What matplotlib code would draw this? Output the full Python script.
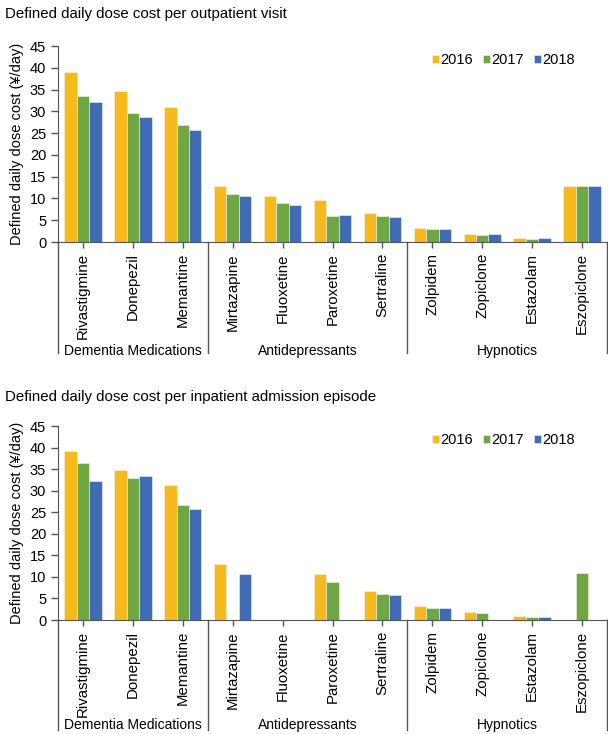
import numpy as np
import matplotlib
matplotlib.use("Agg")
import matplotlib.pyplot as plt
import matplotlib.transforms as mtransforms

plt.rcParams['font.family'] = ['Liberation Sans', 'DejaVu Sans']

drugs = ['Rivastigmine', 'Donepezil', 'Memantine', 'Mirtazapine', 'Fluoxetine',
         'Paroxetine', 'Sertraline', 'Zolpidem', 'Zopiclone', 'Estazolam', 'Eszopiclone']
groups = ['Dementia Medications', 'Antidepressants', 'Hypnotics']
group_sizes = [3, 4, 4]
years = ['2016', '2017', '2018']
colors = ['#F6BA1C', '#6FA743', '#3F6CB4']

nan = np.nan
# outpatient visit
out_2016 = [39.0, 34.7, 31.1, 12.8, 10.6, 9.6, 6.7, 3.3, 1.9, 1.0, 12.8]
out_2017 = [33.5, 29.7, 26.8, 11.0, 8.9, 5.9, 6.0, 2.9, 1.7, 0.8, 12.8]
out_2018 = [32.1, 28.6, 25.7, 10.6, 8.5, 6.2, 5.8, 2.9, 1.8, 0.9, 12.8]
# inpatient admission episode
inp_2016 = [39.1, 34.8, 31.2, 12.9, nan, 10.6, 6.7, 3.3, 1.8, 0.9, nan]
inp_2017 = [36.4, 32.9, 26.6, nan, nan, 8.9, 6.0, 2.8, 1.7, 0.8, 11.0]
inp_2018 = [32.2, 33.3, 25.8, 10.7, nan, nan, 5.8, 2.8, nan, 0.8, nan]

titles = ['Defined daily dose cost per outpatient visit',
          'Defined daily dose cost per inpatient admission episode']


def draw_panel(ax, series, line_end, label_y):
    x = np.arange(len(drugs))
    w = 0.25
    for k in range(3):
        ax.bar(x + (k - 1) * w, series[k], w, color=colors[k], edgecolor='#f4f4f4',
               linewidth=0.4, label=years[k])
    ax.set_xlim(-0.5, len(drugs) - 0.5)
    ax.set_ylim(0, 45)
    ax.set_yticks(np.arange(0, 46, 5))
    ax.set_xticks(x)
    ax.set_xticklabels(drugs, rotation=90, fontsize=10.8)
    ax.tick_params(axis='x', length=4, width=1, color='#555555', pad=4)
    ax.tick_params(axis='y', length=5, width=1, color='#555555', labelsize=10.5)
    for s in ['top', 'right']:
        ax.spines[s].set_visible(False)
    ax.spines['left'].set_color('#555555')
    ax.spines['bottom'].set_color('#555555')
    ax.set_ylabel('Defined daily dose cost (¥/day)', fontsize=10.5, labelpad=4)
    ax.legend(loc='upper right', bbox_to_anchor=(0.965, 1.03), ncol=3, frameon=False,
              fontsize=10.5, handlelength=0.45, handleheight=0.45, handletextpad=0.1,
              columnspacing=0.7)
    trans = mtransforms.blended_transform_factory(ax.transData, ax.transAxes)
    edges = np.concatenate([[0], np.cumsum(group_sizes)]) - 0.5
    for e in edges:
        ax.plot([e, e], [0, line_end], transform=trans, color='#555555', lw=1,
                clip_on=False)
    for i, g in enumerate(groups):
        ax.text((edges[i] + edges[i + 1]) / 2, label_y, g, transform=trans,
                ha='center', va='center', fontsize=10)


fig = plt.figure(figsize=(6.08, 7.34), dpi=100)
ax1 = fig.add_axes([58 / 608, 1 - 242 / 734, 549 / 608, 196 / 734])
ax2 = fig.add_axes([58 / 608, 1 - 620 / 734, 549 / 608, 194 / 734])

draw_panel(ax1, [out_2016, out_2017, out_2018], -0.565, -0.555)
draw_panel(ax2, [inp_2016, inp_2017, inp_2018], -0.565, -0.54)

fig.text(5 / 608, 1 - 14 / 734, titles[0], fontsize=10.8, ha='left', va='center')
fig.text(5 / 608, 1 - 397 / 734, titles[1], fontsize=10.8, ha='left', va='center')

fig.savefig('out.png', dpi=100)
